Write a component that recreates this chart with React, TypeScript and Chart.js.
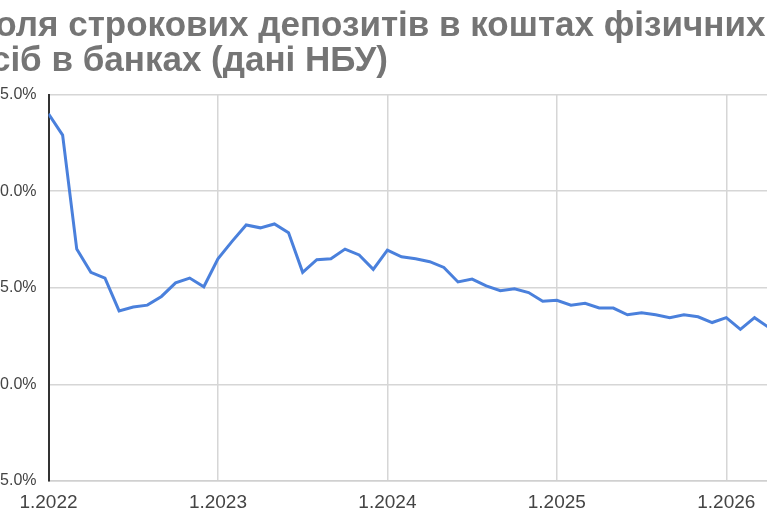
import { useEffect, useRef } from "react"
import { Chart, registerables } from "chart.js"

Chart.register(...registerables)

// частка строкових депозитів, % (щомісячно з 1.2022)
const share = [
  44.0, 42.9, 37.0, 35.8, 35.5, 33.8, 34.0, 34.1, 34.55, 35.25, 35.5, 35.05,
  36.5, 37.4, 38.25, 38.1, 38.3, 37.85, 35.8, 36.45, 36.5, 37.0, 36.7, 35.95,
  36.95, 36.6, 36.5, 36.35, 36.05, 35.3, 35.45, 35.1, 34.85, 34.95, 34.75, 34.3,
  34.35, 34.1, 34.2, 33.95, 33.95, 33.6, 33.7, 33.6, 33.45, 33.6, 33.5, 33.2,
  33.45, 32.85, 33.45, 32.95,
]

const yearTicks = ["1.2022", "1.2023", "1.2024", "1.2025", "1.2026"]

const titleLines = [
  "Доля строкових депозитів в коштах фізичних",
  "осіб в банках (дані НБУ)",
]

const FONT = "'Liberation Sans', Arial, sans-serif"

export default function App() {
  const canvasRef = useRef<HTMLCanvasElement>(null)
  const chartRef = useRef<Chart | null>(null)

  useEffect(() => {
    if (!canvasRef.current) return
    const ctx = canvasRef.current.getContext("2d")
    if (!ctx) return

    chartRef.current = new Chart(ctx, {
      type: "line",
      data: {
        datasets: [
          {
            label: "Доля строкових депозитів",
            data: share.map((v, i) => ({ x: i, y: v })),
            borderColor: "#4a80dc",
            borderWidth: 3,
            pointRadius: 0,
            tension: 0,
            fill: false,
          },
        ],
      },
      options: {
        responsive: false,
        animation: false,
        layout: { padding: 0 },
        plugins: {
          legend: { display: false },
          tooltip: { enabled: false },
          title: {
            display: true,
            text: titleLines,
            align: "start",
            color: "#757575",
            font: { family: FONT, size: 35, weight: "bold", lineHeight: 1.0 },
            padding: { top: 8.75, bottom: 15.75 },
          },
        },
        scales: {
          x: {
            type: "linear",
            min: 0,
            max: 54,
            afterFit: (scale: any) => {
              scale.height = 30
            },
            ticks: {
              stepSize: 12,
              autoSkip: false,
              maxRotation: 0,
              padding: 10,
              color: "#444",
              font: { family: FONT, size: 19 },
              callback: (v: any) => (v % 12 === 0 ? yearTicks[v / 12] ?? "" : ""),
            },
            grid: {
              drawTicks: false,
              lineWidth: 1.5,
              color: (c: any) => (c.tick && c.tick.value % 12 === 0 ? "#d6d6d6" : "transparent"),
            },
            border: { color: "#d0d0d0", width: 1.5 },
          },
          y: {
            min: 25,
            max: 45,
            afterFit: (scale: any) => {
              scale.width = 78.5
            },
            ticks: {
              stepSize: 5,
              padding: 12,
              color: "#444",
              font: { family: FONT, size: 16 },
              callback: (v: any) => Number(v).toFixed(1) + "%",
            },
            grid: { drawTicks: false, lineWidth: 1.5, color: "#d6d6d6" },
            border: { color: "#333", width: 2 },
          },
        },
      },
    })

    return () => {
      chartRef.current?.destroy()
      chartRef.current = null
    }
  }, [])

  return (
    <div
      style={{
        position: "fixed",
        left: 0,
        top: 0,
        width: 767,
        height: 511,
        overflow: "hidden",
        background: "#fff",
      }}
    >
      <canvas
        ref={canvasRef}
        width={851}
        height={511}
        style={{ position: "absolute", left: -30, top: 0, width: 851, height: 511 }}
      />
    </div>
  )
}
